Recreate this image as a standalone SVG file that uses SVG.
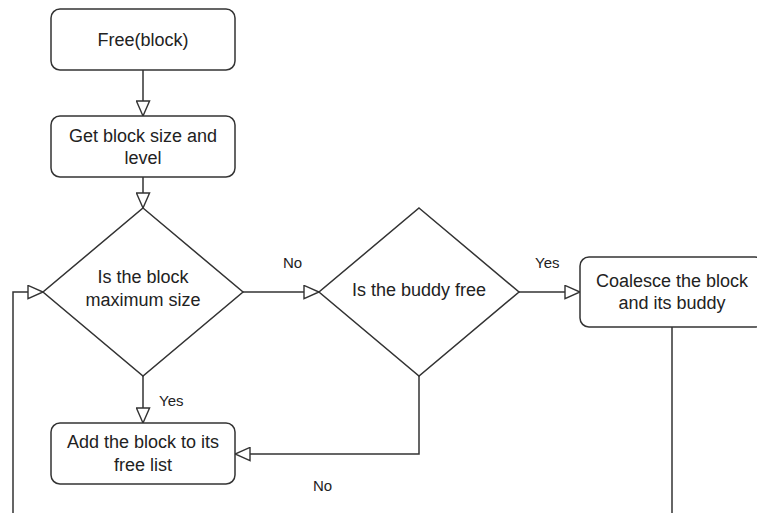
<svg xmlns="http://www.w3.org/2000/svg" width="757" height="513" viewBox="0 0 757 513">
<defs>
<style>
.n{fill:#fff;stroke:#333;stroke-width:1.5}
.t{font-family:"Liberation Sans",Arial,sans-serif;font-size:18px;fill:#222;text-anchor:middle}
.l{font-family:"Liberation Sans",Arial,sans-serif;font-size:15px;fill:#222}
.c{fill:none;stroke:#333;stroke-width:1.5}
</style>
<marker id="ah" markerUnits="userSpaceOnUse" markerWidth="18" markerHeight="15" refX="16" refY="7" orient="auto" viewBox="-1 -1 18 16">
<path d="M0,0 L16,7 L0,14 Z" fill="#fff" stroke="#333" stroke-width="1.5"/>
</marker>
</defs>
<rect width="757" height="513" fill="#fff"/>
<g id="connectors">
<path class="c" d="M143,70 V116" marker-end="url(#ah)"/>
<path class="c" d="M143,177 V208" marker-end="url(#ah)"/>
<path class="c" d="M243,292 H319" marker-end="url(#ah)"/>
<path class="c" d="M519,292 H580" marker-end="url(#ah)"/>
<path class="c" d="M143,376 V423" marker-end="url(#ah)"/>
<path class="c" d="M419,376 V454 H235" marker-end="url(#ah)"/>
<path class="c" d="M672,327 V513"/>
<path class="c" d="M13,513 V292 H43" marker-end="url(#ah)"/>
<text class="l" x="283" y="268">No</text>
<text class="l" x="535" y="268">Yes</text>
<text class="l" x="159" y="406">Yes</text>
<text class="l" x="313" y="491">No</text>
</g>
<g id="free">
<rect class="n" x="51" y="9" width="184" height="61" rx="9"/>
<text class="t" x="143" y="46">Free(block)</text>
</g>
<g id="getsize">
<rect class="n" x="51" y="116" width="184" height="61" rx="9"/>
<text class="t" x="143" y="142">Get block size and</text>
<text class="t" x="143" y="164">level</text>
</g>
<g id="ismax">
<path class="n" d="M143,208 L243,292 L143,376 L43,292 Z"/>
<text class="t" x="143" y="283">Is the block</text>
<text class="t" x="143" y="306">maximum size</text>
</g>
<g id="buddyfree">
<path class="n" d="M419,208 L519,292 L419,376 L319,292 Z"/>
<text class="t" x="419" y="296">Is the buddy free</text>
</g>
<g id="coalesce">
<rect class="n" x="580" y="257" width="184" height="70" rx="9"/>
<text class="t" x="672" y="287">Coalesce the block</text>
<text class="t" x="672" y="309">and its buddy</text>
</g>
<g id="addfree">
<rect class="n" x="51" y="423" width="184" height="61" rx="9"/>
<text class="t" x="143" y="448">Add the block to its</text>
<text class="t" x="143" y="471">free list</text>
</g>
</svg>
